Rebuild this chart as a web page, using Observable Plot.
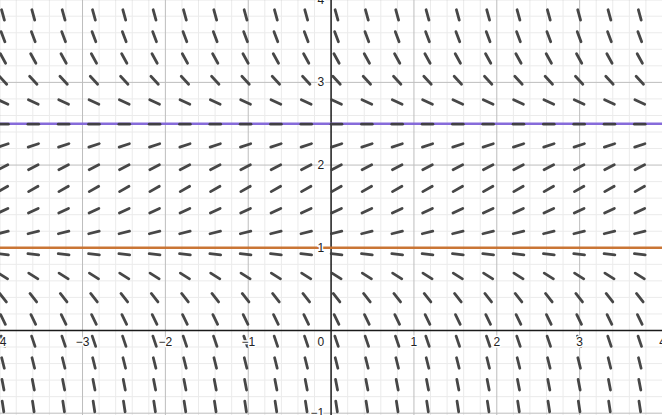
<!DOCTYPE html>
<html>
<head>
<meta charset="utf-8">
<script src="https://cdn.jsdelivr.net/npm/d3@7"></script>
<script src="https://cdn.jsdelivr.net/npm/@observablehq/plot@0.6"></script>
<style>
  html, body { margin: 0; padding: 0; background: #fff; }
  #chart svg { display: block; }
</style>
</head>
<body>
<div id="chart"></div>
<script>
// Slope-field sample columns (x) and rows (y) with the slope read at each row
const colX = [-3.96, -3.594, -3.228, -2.862, -2.496, -2.13, -1.764, -1.398, -1.032, -0.666, -0.3,
              0.066, 0.432, 0.798, 1.164, 1.53, 1.896, 2.262, 2.628, 2.994, 3.36, 3.726];
const rowY = [4.078, 3.815, 3.552, 3.289, 3.026, 2.763, 2.495, 2.237, 1.974, 1.711, 1.448, 1.185,
              0.922, 0.659, 0.396, 0.133, -0.13, -0.393, -0.656, -0.919];
const rowSlope = [-4.86, -3.7, -2.69, -1.81, -1.07, -0.46, 0, 0.33, 0.51, 0.56, 0.47, 0.24,
                  -0.12, -0.63, -1.27, -2.05, -2.97, -4.03, -5.23, -6.56];

// Equilibrium lines
const equilibria = [
  {y: 2.5, color: "#7f63d8"},
  {y: 1, color: "#c8702c"}
];

// Axis tick labels
const xTicks = [-4, -3, -2, -1, 1, 2, 3, 4];
const yTicks = [-1, 1, 2, 3, 4];
const majorX = [-4, -3, -2, -1, 1, 2, 3, 4];
const majorY = [-1, 1, 2, 3, 4];
const minorX = d3.range(-20, 21).filter(i => i % 5 !== 0).map(i => i / 5);
const minorY = d3.range(-5, 21).filter(i => i % 5 !== 0).map(i => i / 5);

const field = rowY.flatMap((y, j) => colX.map(x => ({x, y, slope: rowSlope[j]})));

const segShape = {
  draw(context, l) {
    context.moveTo(0, 0);
    context.lineTo(0, -l);
  }
};

const font = "'Liberation Sans', Arial, sans-serif";

const chart = Plot.plot({
  width: 662,
  height: 415,
  margin: 0,
  x: {domain: [-3.99, 4.0], axis: null},
  y: {domain: [-1.028, 3.99], axis: null},
  style: {background: "#fff", fontFamily: font},
  marks: [
    Plot.ruleX(minorX, {stroke: "#ebebeb", strokeWidth: 1}),
    Plot.ruleY(minorY, {stroke: "#ebebeb", strokeWidth: 1}),
    Plot.ruleX(majorX, {stroke: "#bdbdbd", strokeWidth: 1}),
    Plot.ruleY(majorY, {stroke: "#bdbdbd", strokeWidth: 1}),
    Plot.ruleX([0], {stroke: "#1a1a1a", strokeWidth: 1.5}),
    Plot.ruleY([0], {stroke: "#1a1a1a", strokeWidth: 1.5}),
    Plot.ruleY(equilibria, {y: "y", stroke: "color", strokeWidth: 2.6, strokeOpacity: 0.95}),
    Plot.vector(field, {
      x: "x", y: "y",
      rotate: d => 90 - Math.atan(d.slope) * 180 / Math.PI,
      length: 10.8,
      anchor: "middle",
      shape: segShape,
      stroke: "#3d3d3d",
      strokeWidth: 2.8,
      strokeLinecap: "round",
      strokeOpacity: 0.95
    }),
    Plot.text(xTicks, {
      x: d => d, y: 0, text: d => d < 0 ? "\u2212" + Math.abs(d) : String(d),
      dy: 12, fontSize: 12, fill: "#222", stroke: "#fff", strokeWidth: 3, fontFamily: font
    }),
    Plot.text(yTicks, {
      x: 0, y: d => d, text: d => d < 0 ? "\u2212" + Math.abs(d) : String(d),
      dx: -7, textAnchor: "end", fontSize: 12, fill: "#222", stroke: "#fff", strokeWidth: 3, fontFamily: font
    }),
    Plot.text([0], {
      x: 0, y: 0, text: d => String(d),
      dx: -7, dy: 12, textAnchor: "end", fontSize: 12, fill: "#222", stroke: "#fff", strokeWidth: 3, fontFamily: font
    })
  ]
});

document.getElementById("chart").appendChild(chart);
</script>
</body>
</html>
